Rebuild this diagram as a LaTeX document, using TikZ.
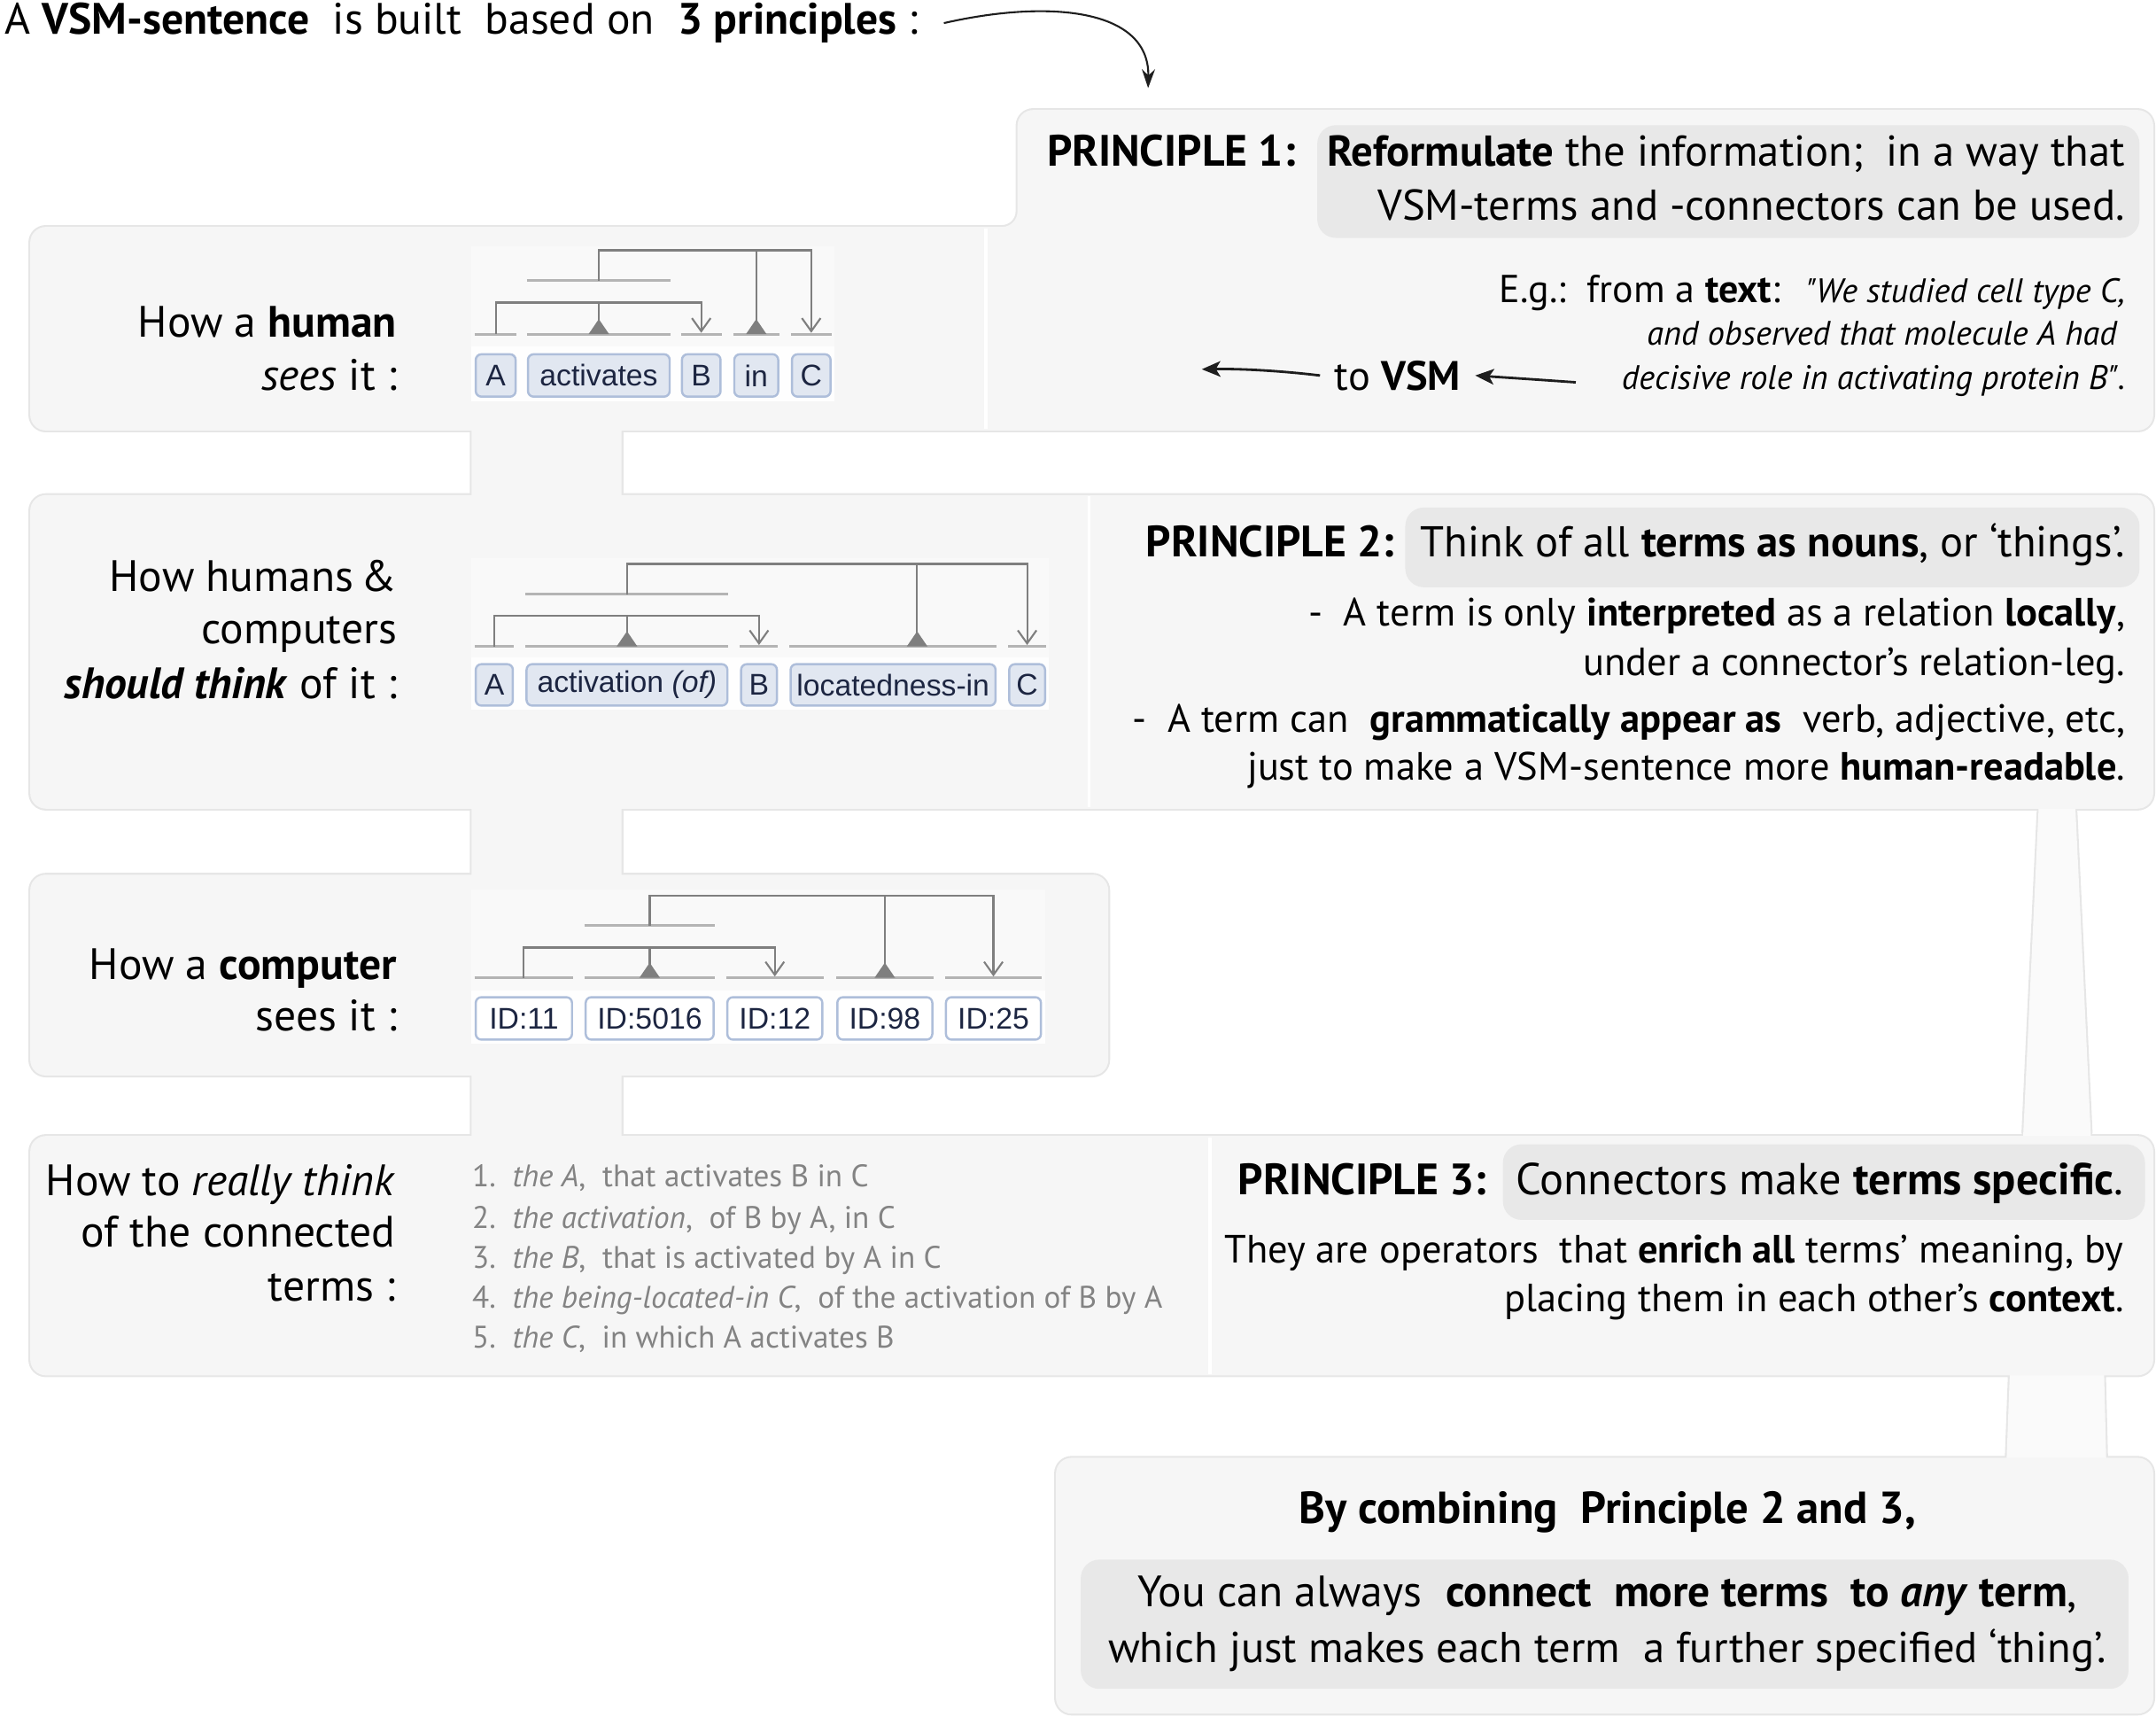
\documentclass[tikz,border=0pt]{standalone}
\usepackage{fontspec}
\setmainfont{PT Sans}
\newfontfamily\termfont{Liberation Sans}
\usetikzlibrary{arrows.meta,calc}

\definecolor{panelfill}{HTML}{F6F6F6}
\definecolor{paneledge}{HTML}{E6E6E6}
\definecolor{stripfill}{HTML}{FAFAFA}
\definecolor{hilite}{HTML}{E8E8E8}
\definecolor{treebg}{HTML}{F9F9F9}
\definecolor{termbg}{HTML}{FEFEFE}
\definecolor{termfill}{HTML}{E1E7F1}
\definecolor{termedge}{HTML}{AEBEDA}
\definecolor{termtext}{HTML}{1C2541}
\definecolor{legline}{HTML}{7F7F7F}
\definecolor{barline}{HTML}{B4B4B4}
\definecolor{listgray}{HTML}{838383}
\definecolor{inkarrow}{HTML}{1E1E1E}

\newcommand\bigsize{\fontsize{14.1}{16.5}\selectfont}
\newcommand\claimsize{\fontsize{13.85}{16.5}\selectfont}
\newcommand\bodysize{\fontsize{12.65}{15}\selectfont}
\newcommand\egsize{\fontsize{12.5}{15}\selectfont}
\newcommand\vsmsize{\fontsize{13.2}{15.5}\selectfont}
\newcommand\quotesize{\fontsize{10.9}{13}\selectfont\itshape}
\newcommand\listsize{\fontsize{10}{12}\selectfont}
\newcommand\termsize{\termfont\fontsize{9.6}{11}\selectfont}

% panel outlines (rows and left joints)
\newcommand\panelpaths{
  (22,165) rectangle (1566,313)
  (22,360) rectangle (1566,588)
  (22,636) rectangle (806,782)
  (22,826) rectangle (1566,1000)
  (768,1060) rectangle (1566,1246)
  (343,300) rectangle (452,372)
  (343,576) rectangle (452,648)
  (343,770) rectangle (452,838)
}
% tab of principle 1
\newcommand\tabpath{
  (680,165) -- (740,165) -- (740,80) -- (1566,80) -- (1566,200) -- (680,200) -- cycle
}
\newcommand\strippaths{
  (1483,580) -- (1509,580) -- (1521,834) -- (1471,834) -- cycle
  (1462,990) -- (1530,990) -- (1532,1070) -- (1459,1070) -- cycle
}

\begin{document}
\begin{tikzpicture}[
    x=0.015523cm, y=-0.015523cm,
    txt/.style={inner sep=0pt, font=\bigsize},
    claimtxt/.style={inner sep=0pt, font=\claimsize, anchor=base east},
    bodytxt/.style={inner sep=0pt, font=\bodysize},
    quotetxt/.style={inner sep=0pt, font=\quotesize, anchor=base east},
    listtxt/.style={inner sep=0pt, font=\listsize, text=listgray, anchor=base west},
    term/.style={
        draw=termedge,
        fill=termfill,
        rounded corners=1.8pt,
        line width=0.7pt,
        inner sep=0pt,
        minimum height=13.6pt,
        font=\termsize,
        text=termtext
    },
    idterm/.style={term, fill=white},
    conn/.style={draw=legline, line width=0.6pt},
    objleg/.style={conn, -{Straight Barb[length=4.2pt, width=6pt]}},
    termbar/.style={draw=barline, line width=0.8pt},
    reltri/.style={fill=legline},
    sepline/.style={draw=white, line width=0.9pt},
    bigarrow/.style={-{Stealth[length=6pt, width=4.2pt]}, line width=0.6pt, draw=inkarrow},
    vsmarrow/.style={-{Stealth[length=6pt, width=5pt, inset=1.5pt]}, line width=0.8pt, draw=inkarrow}
]
    \useasboundingbox (0,0) rectangle (1568,1248);

    % panels: edges first, fills on top
    \path[draw=paneledge, line width=1.2pt, rounded corners=5pt] \panelpaths \tabpath \strippaths;
    \fill[stripfill, rounded corners=3pt] \strippaths;
    \fill[panelfill, rounded corners=5pt] \panelpaths;
    \fill[panelfill, rounded corners=5pt] \tabpath;
    \draw[sepline] (717,166) -- (717,312);
    \draw[sepline] (792,361) -- (792,587);
    \draw[sepline] (880,827) -- (880,999);

    % grey highlights
    \fill[hilite, rounded corners=6pt] (958,91) rectangle (1556,173);
    \fill[hilite, rounded corners=6pt] (1022,369) rectangle (1556,427);
    \fill[hilite, rounded corners=6pt] (1093,832) rectangle (1560,887);
    \fill[hilite, rounded corners=6pt] (786,1134) rectangle (1548,1228);

    % diagram backgrounds
    \fill[treebg] (343,179) rectangle (607,252);
    \fill[termbg] (343,252) rectangle (607,292);
    \fill[treebg] (343,406) rectangle (763,478);
    \fill[termbg] (343,478) rectangle (763,516);
    \fill[treebg] (343,647) rectangle (760,720);
    \fill[termbg] (343,720) rectangle (760,759);

    % title
    \node[txt, anchor=base west] (title) at (3,25) {A \textbf{VSM-sentence}\ \ is built\ \ based on\ \ \textbf{3 principles} :};
    \coordinate (p1in) at (835,64);
    \draw[bigarrow] ([xshift=8pt]title.east) .. controls (760,0) and (836,5) .. (p1in);

    % principle 1
    \node[txt, anchor=base west] (p1head) at (761,121) {\textbf{PRINCIPLE 1:}};
    \node[claimtxt] (p1l1) at (1546,121) {\textbf{Reformulate} the information;\ \ in a way that};
    \node[claimtxt] (p1l2) at (1546,160) {VSM-terms and -connectors can be used.};
    \node[inner sep=0pt, font=\egsize, anchor=base west] (eg) at (1090,220) {E.g.:\ \ from a \textbf{text}:};
    \node[quotetxt] (q1) at (1546,220) {\textquotedbl We studied cell type C,};
    \node[quotetxt] (q2) at (1540,251) {and observed that molecule A had};
    \node[quotetxt] (q3) at (1546,283) {decisive role in activating protein B\textquotedbl.};
    \node[inner xsep=4.5pt, inner ysep=0pt, font=\vsmsize, anchor=base west] (tovsm) at (960,283.5) {to \textbf{VSM}};
    \coordinate (egstart) at (1146,278);
    \coordinate (vsmout) at (874,268.5);
    \draw[vsmarrow] (egstart) .. controls (1118,276) and (1095,274.5) .. (tovsm.east);
    \draw[vsmarrow] (tovsm.west) .. controls (935,270) and (905,268) .. (vsmout);

    % principle 2
    \node[txt, anchor=base west] (p2head) at (833,405) {\textbf{PRINCIPLE 2:}};
    \node[claimtxt] (p2l0) at (1546,405) {Think of all \textbf{terms as nouns}, or ‘things’.};
    \node[bodytxt, anchor=base east] (p2l1) at (1546,455) {-\ \ A term is only \textbf{interpreted} as a relation \textbf{locally},};
    \node[bodytxt, anchor=base east] (p2l2) at (1546,491) {under a connector's relation-leg.};
    \node[bodytxt, anchor=base east] (p2l3) at (1546,532.5) {-\ \ A term can\ \ \textbf{grammatically appear as}\ \ verb, adjective, etc,};
    \node[bodytxt, anchor=base east] (p2l4) at (1546,567.5) {just to make a VSM-sentence more \textbf{human-readable}.};

    % principle 3
    \node[txt, anchor=base west] (p3head) at (900,869) {\textbf{PRINCIPLE 3:}};
    \node[txt, font=\fontsize{14.35}{16.5}\selectfont, anchor=base east] (p3l0) at (1545,869) {Connectors make \textbf{terms specific}.};
    \node[bodytxt, anchor=base east] (p3l1) at (1545,918) {They are operators\ \ that \textbf{enrich all} terms’ meaning, by};
    \node[bodytxt, anchor=base east] (p3l2) at (1545,953.5) {placing them in each other’s \textbf{context}.};

    % combining principles
    \node[txt, font=\fontsize{14.4}{16.5}\selectfont, anchor=base] (fin0) at (1169,1108) {\textbf{By combining\ \ Principle 2 and 3,}};
    \node[txt, anchor=base] (fin1) at (1169,1168) {You can always\ \ \textbf{connect\ \ more terms\ \ to \textit{any} term},};
    \node[txt, font=\claimsize, anchor=base] (fin2) at (1169,1209) {which just makes each term\ \ a further specified ‘thing’.};

    % row labels
    \node[txt, anchor=base east] (lab1a) at (289,245) {How a \textbf{human}};
    \node[txt, anchor=base east] (lab1b) at (289,283.5) {\textit{sees} it :};
    \node[txt, anchor=base east] (lab2a) at (289,430) {How humans\,\&};
    \node[txt, anchor=base east] (lab2b) at (289,468) {computers};
    \node[txt, anchor=base east] (lab2c) at (289,508) {\textbf{\textit{should think}} of it :};
    \node[txt, anchor=base east] (lab3a) at (289,712) {How a \textbf{computer}};
    \node[txt, anchor=base east] (lab3b) at (289,749.5) {sees it :};
    \node[txt, anchor=base east] (lab4a) at (288,869.5) {How to \textit{really think}};
    \node[txt, anchor=base east] (lab4b) at (288,907) {of the connected};
    \node[txt, anchor=base east] (lab4c) at (288,946) {terms :};

    % readings
    \node[listtxt] (read1) at (343,863) {1.\ \ \textit{the A},\ \ that activates B in C};
    \node[listtxt] (read2) at (343,893) {2.\ \ \textit{the activation},\ \ of B by A, in C};
    \node[listtxt] (read3) at (343,922) {3.\ \ \textit{the B},\ \ that is activated by A in C};
    \node[listtxt] (read4) at (343,951) {4.\ \ \textit{the being-located-in C},\ \ of the activation of B by A};
    \node[listtxt] (read5) at (343,980) {5.\ \ \textit{the C},\ \ in which A activates B};

    % human terms
    \node[term, minimum width=12.8pt] (hum1) at (360.5,273) {A};
    \node[term, minimum width=45.5pt] (hum2) at (435.5,273) {activates};
    \node[term, minimum width=12.4pt] (hum3) at (510,273) {B};
    \node[term, minimum width=14.1pt] (hum4) at (550,273) {in};
    \node[term, minimum width=12.4pt] (hum5) at (590,273) {C};
    \draw[termbar] (hum1.west |- 0,243) -- (hum1.east |- 0,243);
    \draw[termbar] (hum2.west |- 0,243) -- (hum2.east |- 0,243);
    \draw[termbar] (hum3.west |- 0,243) -- (hum3.east |- 0,243);
    \draw[termbar] (hum4.west |- 0,243) -- (hum4.east |- 0,243);
    \draw[termbar] (hum5.west |- 0,243) -- (hum5.east |- 0,243);
    \draw[termbar] (hum2.west |- 0,204) -- (hum2.east |- 0,204);
    \draw[objleg] (hum1 |- 0,243) |- (hum3 |- 0,220) -- (hum3 |- 0,242);
    \draw[conn] (hum2 |- 0,220) -- (hum2 |- 0,236);
    \fill[reltri] (hum2 |- 0,243) ++(-7.5,0) -- ++(15,0) -- ++(-7.5,-11) -- cycle;
    \draw[objleg] (hum2 |- 0,204) |- (hum5 |- 0,182) -- (hum5 |- 0,242);
    \draw[conn] (hum4 |- 0,182) -- (hum4 |- 0,236);
    \fill[reltri] (hum4 |- 0,243) ++(-7.5,0) -- ++(15,0) -- ++(-7.5,-11) -- cycle;

    % should-think terms
    \node[term, minimum width=11.9pt, minimum height=13.3pt] (thk1) at (359.5,498) {A};
    \node[term, minimum width=64.5pt, minimum height=13.3pt] (thk2) at (456,498) {activation \textit{(of)}};
    \node[term, minimum width=11.5pt, minimum height=13.3pt] (thk3) at (552,498) {B};
    \node[term, minimum width=65.8pt, minimum height=13.3pt] (thk4) at (649.5,498) {locatedness-in};
    \node[term, minimum width=11.5pt, minimum height=13.3pt] (thk5) at (747,498) {C};
    \coordinate (locleg) at (667,410);
    \draw[termbar] (thk1.west |- 0,470) -- (thk1.east |- 0,470);
    \draw[termbar] (thk2.west |- 0,470) -- (thk2.east |- 0,470);
    \draw[termbar] (thk3.west |- 0,470) -- (thk3.east |- 0,470);
    \draw[termbar] (thk4.west |- 0,470) -- (thk4.east |- 0,470);
    \draw[termbar] (thk5.west |- 0,470) -- (thk5.east |- 0,470);
    \draw[termbar] (thk2.west |- 0,432) -- (thk2.east |- 0,432);
    \draw[objleg] (thk1 |- 0,470) |- (thk3 |- 0,448) -- (thk3 |- 0,469);
    \draw[conn] (thk2 |- 0,448) -- (thk2 |- 0,463);
    \fill[reltri] (thk2 |- 0,470) ++(-7.5,0) -- ++(15,0) -- ++(-7.5,-11) -- cycle;
    \draw[objleg] (thk2 |- 0,432) |- (thk5 |- 0,410) -- (thk5 |- 0,469);
    \draw[conn] (locleg) -- (locleg |- 0,463);
    \fill[reltri] (locleg |- 0,470) ++(-7.5,0) -- ++(15,0) -- ++(-7.5,-11) -- cycle;

    % computer terms
    \node[idterm, minimum width=30.9pt] (cmp1) at (381,740.5) {ID:11};
    \node[idterm, minimum width=41.1pt] (cmp2) at (472.5,740.5) {ID:5016};
    \node[idterm, minimum width=30.5pt] (cmp3) at (563.5,740.5) {ID:12};
    \node[idterm, minimum width=30.5pt] (cmp4) at (643.5,740.5) {ID:98};
    \node[idterm, minimum width=30.5pt] (cmp5) at (722.5,740.5) {ID:25};
    \draw[termbar] (cmp1.west |- 0,711) -- (cmp1.east |- 0,711);
    \draw[termbar] (cmp2.west |- 0,711) -- (cmp2.east |- 0,711);
    \draw[termbar] (cmp3.west |- 0,711) -- (cmp3.east |- 0,711);
    \draw[termbar] (cmp4.west |- 0,711) -- (cmp4.east |- 0,711);
    \draw[termbar] (cmp5.west |- 0,711) -- (cmp5.east |- 0,711);
    \draw[termbar] (cmp2.west |- 0,673) -- (cmp2.east |- 0,673);
    \draw[objleg] (cmp1 |- 0,711) |- (cmp3 |- 0,689) -- (cmp3 |- 0,710);
    \draw[conn] (cmp2 |- 0,689) -- (cmp2 |- 0,704);
    \fill[reltri] (cmp2 |- 0,711) ++(-7.5,0) -- ++(15,0) -- ++(-7.5,-11) -- cycle;
    \draw[objleg] (cmp2 |- 0,673) |- (cmp5 |- 0,651) -- (cmp5 |- 0,710);
    \draw[conn] (cmp4 |- 0,651) -- (cmp4 |- 0,704);
    \fill[reltri] (cmp4 |- 0,711) ++(-7.5,0) -- ++(15,0) -- ++(-7.5,-11) -- cycle;
\end{tikzpicture}
\end{document}
